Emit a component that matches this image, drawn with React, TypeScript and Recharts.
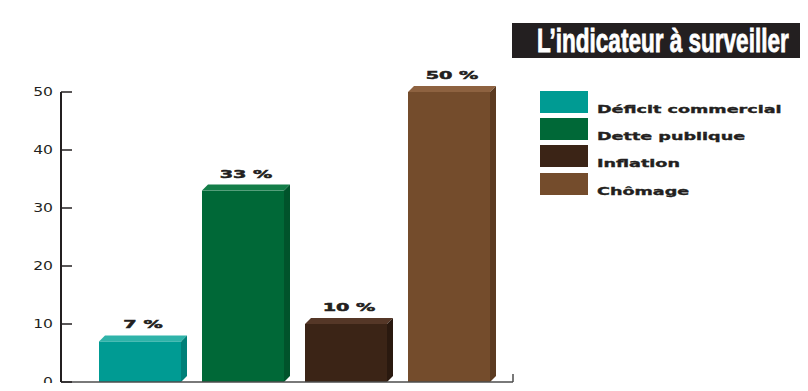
import React from "react";
import {
  BarChart,
  Bar,
  XAxis,
  YAxis,
  Cell,
  LabelList,
  Legend,
  useOffset,
  useChartWidth,
  useChartHeight,
} from "recharts";

const categories = ["Déficit commercial", "Dette publique", "Inflation", "Chômage"];
const values = [7, 33, 10, 50];
const yTicks = [0, 10, 20, 30, 40, 50];
const title = "L\u2019indicateur à surveiller";

const FRONT = ["#009B93", "#006837", "#3B2416", "#744C2C"];
const TOP = ["#2FB3A9", "#137D48", "#553727", "#8E6240"];
const SIDE = ["#008078", "#00532B", "#2A190F", "#5C3B21"];
const INK = "#231F20";
const DEPTH = 6;

const data = categories.map((name, i) => ({ name, value: values[i] }));

function Box3D(props: any) {
  const { x, y, width, height, index } = props;
  if (width == null || height == null || height <= 0) return null;
  const d = DEPTH;
  return (
    <g>
      <rect x={x} y={y} width={width} height={height} fill={FRONT[index]} />
      <polygon
        points={`${x},${y} ${x + d},${y - d} ${x + width + d},${y - d} ${x + width},${y}`}
        fill={TOP[index]}
      />
      <polygon
        points={`${x + width},${y} ${x + width + d},${y - d} ${x + width + d},${y + height - d} ${x + width},${y + height}`}
        fill={SIDE[index]}
      />
    </g>
  );
}

function ValueLabel(props: any) {
  const { x, y, width, value } = props;
  const cx = x + width / 2 + DEPTH / 2;
  return (
    <text
      transform={`translate(${cx},${y - 13}) scale(1.75,1)`}
      textAnchor="middle"
      fontFamily="DejaVu Sans"
      fontWeight="bold"
      fontSize={11}
      fill={INK}
      stroke={INK}
      strokeWidth={0.5}
    >
      {`${value} %`}
    </text>
  );
}

function YTick(props: any) {
  const { x, y, payload } = props;
  return (
    <g>
      <line x1={x + 8} x2={x + 19} y1={y} y2={y} stroke={INK} strokeWidth={1.5} />
      <text
        transform={`translate(${x},${y}) scale(1.3,1)`}
        textAnchor="end"
        dy="0.36em"
        fontFamily="DejaVu Sans"
        fontSize={12}
        fill={INK}
      >
        {payload.value}
      </text>
    </g>
  );
}

function EndTick() {
  const offset = useOffset();
  const w = useChartWidth();
  const h = useChartHeight();
  if (!offset || w == null || h == null) return null;
  const xr = w - offset.right;
  const yb = h - offset.bottom;
  return <line x1={xr} x2={xr} y1={yb - 8} y2={yb} stroke="#4d4d4d" strokeWidth={1.5} />;
}

function LegendBox() {
  return (
    <svg width={260} height={110} style={{ display: "block", overflow: "visible" }}>
      {categories.map((c, i) => {
        const top = [0, 27, 54, 82][i];
        return (
          <g key={c}>
            <rect x={0} y={top} width={48} height={22} fill={FRONT[i]} />
            <text
              transform={`translate(57,${top + 22}) scale(1.6,1)`}
              fontFamily="DejaVu Sans"
              fontWeight="bold"
              fontSize={11}
              fill={INK}
              stroke={INK}
              strokeWidth={0.35}
            >
              {c}
            </text>
          </g>
        );
      })}
    </svg>
  );
}

export default function App() {
  return (
    <div style={{ position: "relative", width: 808, height: 391, margin: -8, background: "#fff" }}>
      <svg
        width={808}
        height={391}
        style={{ position: "absolute", left: 0, top: 0, pointerEvents: "none" }}
      >
        <rect x={512} y={23} width={296} height={35} fill={INK} />
        <text
          transform="translate(537,51.5) scale(0.683,1)"
          fontFamily="Liberation Sans"
          fontWeight="bold"
          fontSize={33}
          fill="#fff"
          stroke="#fff"
          strokeWidth={0.8}
        >
          {title}
        </text>
      </svg>
      <BarChart
        width={808}
        height={391}
        data={data}
        margin={{ top: 92, right: 295, bottom: 0, left: 0 }}
      >
        <XAxis
          dataKey="name"
          tick={false}
          tickLine={false}
          height={9}
          axisLine={{ stroke: "#4d4d4d", strokeWidth: 1.5 }}
          padding={{ left: 27, right: 13 }}
        />
        <YAxis
          domain={[0, 50]}
          ticks={yTicks}
          width={61}
          tickSize={0}
          tickMargin={8}
          tickLine={false}
          axisLine={{ stroke: INK, strokeWidth: 2 }}
          tick={<YTick />}
        />
        <Legend
          layout="vertical"
          align="center"
          verticalAlign="middle"
          wrapperStyle={{ left: 540, top: 91, width: 260 }}
          content={() => <LegendBox />}
        />
        <Bar dataKey="value" barSize={82} shape={<Box3D />} isAnimationActive={false}>
          {data.map((d, i) => (
            <Cell key={d.name} fill={FRONT[i]} />
          ))}
          <LabelList dataKey="value" content={<ValueLabel />} />
        </Bar>
        <EndTick />
      </BarChart>
    </div>
  );
}
